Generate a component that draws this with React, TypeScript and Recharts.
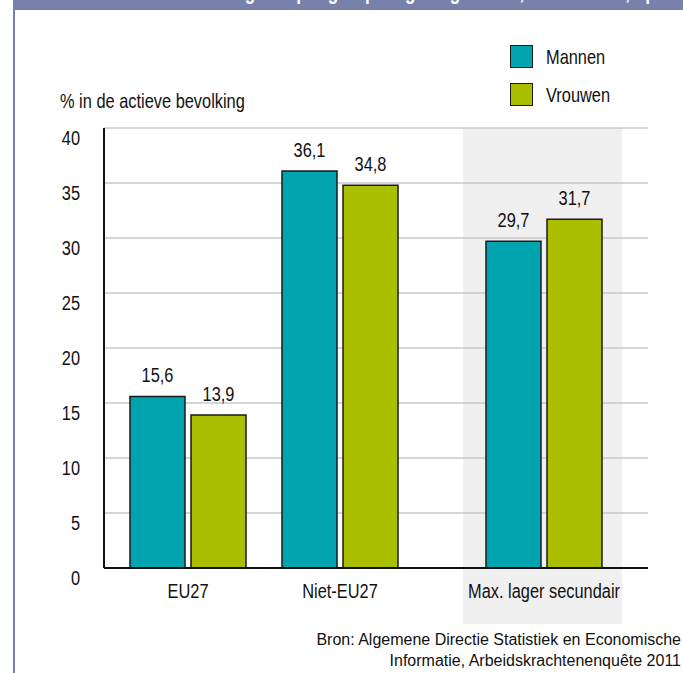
import React from 'react';
import { BarChart, Bar, XAxis, YAxis, CartesianGrid, LabelList } from 'recharts';

// Werkloosheidsgraad, 2011
const categories = ['EU27', 'Niet-EU27', 'Max. lager secundair'];
const mannen = [15.6, 36.1, 29.7];
const vrouwen = [13.9, 34.8, 31.7];
const yTicks = [0, 5, 10, 15, 20, 25, 30, 35, 40];
const seriesNames = ['Mannen', 'Vrouwen'];

const rows = categories.map((name, i) => ({ name, mannen: mannen[i], vrouwen: vrouwen[i] }));

const FONT = '"Liberation Sans", Arial, sans-serif';
const SQUEEZE = 0.78; // no condensed face installed, so narrow the glyphs
const TEAL = '#00a4ae';
const OLIVE = '#aabf00';
const FRAME = '#7781ab';
const GRID = '#c8c8c8';

const fmt = (v: any) => String(v).replace('.', ',');

// condensed svg text
const NarrowText = ({ x, y, anchor, children }: any) => (
  <g transform={`translate(${x},${y}) scale(${SQUEEZE},1)`}>
    <text x={0} y={0} textAnchor={anchor} fontFamily={FONT} fontSize={21} fill="#111">
      {children}
    </text>
  </g>
);

// condensed html text
const Narrow = ({ children, origin = 'left', size = 21, style }: any) => (
  <span style={{ display: 'inline-block', transform: `scaleX(${SQUEEZE})`, transformOrigin: origin, fontSize: size, whiteSpace: 'nowrap', ...style }}>
    {children}
  </span>
);

const YTick = (props: any) => {
  const { x, y, payload } = props;
  return <NarrowText x={x} y={y + 17} anchor="end">{payload.value}</NarrowText>;
};

const XTick = (props: any) => {
  const { x, y, payload } = props;
  return <NarrowText x={x} y={y + 28} anchor="middle">{payload.value}</NarrowText>;
};

const ValueLabel = (props: any) => {
  const { x, y, width, value } = props;
  return <NarrowText x={x + width / 2} y={y - 14} anchor="middle">{fmt(value)}</NarrowText>;
};

const bars = () => [
  <Bar key="m" dataKey="mannen" fill={TEAL} stroke="#1a1a1a" strokeWidth={1.5} isAnimationActive={false}>
    <LabelList dataKey="mannen" content={<ValueLabel />} />
  </Bar>,
  <Bar key="v" dataKey="vrouwen" fill={OLIVE} stroke="#1a1a1a" strokeWidth={1.5} isAnimationActive={false}>
    <LabelList dataKey="vrouwen" content={<ValueLabel />} />
  </Bar>,
];

export default function App() {
  return (
    <div style={{ position: 'absolute', left: 0, top: 0, width: 683, height: 673, overflow: 'hidden', background: '#fff', fontFamily: FONT, color: '#111' }}>
      {/* title bar, mostly cut off at the top */}
      <div style={{ position: 'absolute', left: 13, top: 0, right: 0, height: 10, background: FRAME, overflow: 'hidden' }}>
        <div style={{ position: 'absolute', left: 110, top: -18, lineHeight: '20px', color: '#fff', fontWeight: 'bold' }}>
          <Narrow size={22}>Werkloosheidsgraad per groep volgens geslacht, nationaliteit, opleiding, België, 2011 (in %)</Narrow>
        </div>
      </div>
      <div style={{ position: 'absolute', left: 13, top: 0, width: 2, height: 673, background: FRAME }} />

      {/* shaded group */}
      <div style={{ position: 'absolute', left: 463, top: 128, width: 159, height: 496, background: '#f0f0f0' }} />

      <div style={{ position: 'absolute', left: 60, top: 89, lineHeight: '24px' }}>
        <Narrow>% in de actieve bevolking</Narrow>
      </div>

      {/* legend */}
      {seriesNames.map((s, i) => (
        <div key={s} style={{ position: 'absolute', left: 510, top: 45 + i * 38, height: 23, display: 'flex', alignItems: 'center' }}>
          <div style={{ width: 21, height: 21, background: i === 0 ? TEAL : OLIVE, border: '1.5px solid #1a1a1a' }} />
          <Narrow style={{ marginLeft: 13 }}>{s}</Narrow>
        </div>
      ))}

      <div style={{ position: 'absolute', left: 0, top: 0 }}>
        <BarChart width={462} height={673} data={rows.slice(0, 2)} margin={{ top: 128, right: 0, bottom: 65, left: 60 }} barSize={55} barGap={6}>
          <CartesianGrid vertical={false} stroke={GRID} strokeWidth={1.5} />
          <XAxis dataKey="name" height={40} padding={{ left: 8, right: 46 }} axisLine={{ stroke: '#111', strokeWidth: 2 }} tickLine={false} tick={<XTick />} tickSize={0} interval={0} />
          <YAxis width={44} domain={[0, 40]} ticks={yTicks} axisLine={{ stroke: '#111', strokeWidth: 2 }} tickLine={false} tickSize={0} tickMargin={24} tick={<YTick />} interval={0} />
          {bars()}
        </BarChart>
      </div>

      <div style={{ position: 'absolute', left: 462, top: 0 }}>
        <BarChart width={221} height={673} data={rows.slice(2)} margin={{ top: 128, right: 35, bottom: 65, left: 0 }} barSize={55} barGap={6}>
          <CartesianGrid vertical={false} stroke={GRID} strokeWidth={1.5} />
          <XAxis dataKey="name" height={40} padding={{ left: 2, right: 24 }} axisLine={{ stroke: '#111', strokeWidth: 2 }} tickLine={false} tick={<XTick />} tickSize={0} interval={0} />
          <YAxis hide width={0} domain={[0, 40]} ticks={yTicks} />
          {bars()}
        </BarChart>
      </div>

      <div style={{ position: 'absolute', right: 2, top: 629, textAlign: 'right', fontSize: 16, lineHeight: '21px', whiteSpace: 'nowrap' }}>
        Bron: Algemene Directie Statistiek en Economische
        <br />
        Informatie, Arbeidskrachtenenquête 2011
      </div>
    </div>
  );
}
